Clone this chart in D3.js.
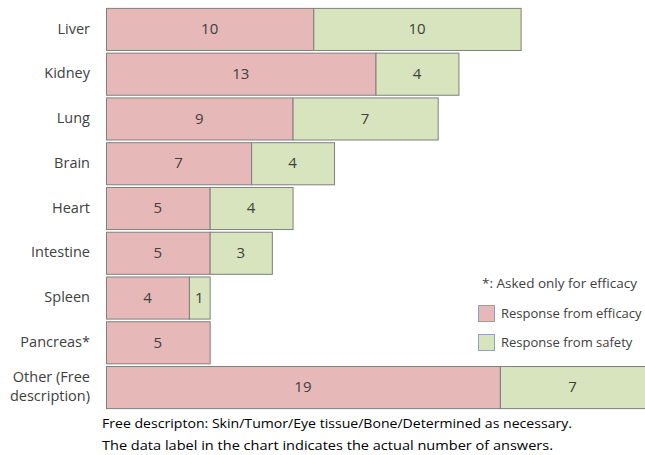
<!DOCTYPE html>
<html>
<head>
<meta charset="utf-8">
<script src="https://cdn.jsdelivr.net/npm/d3@7"></script>
<style>
  html, body { margin: 0; padding: 0; background: #fff; }
  svg { display: block; font-family: "Open Sans", "Noto Sans", sans-serif; }
</style>
</head>
<body>
<svg id="chart" width="645" height="455"></svg>
<script>
// Organs asked about, with counts of answers from each survey part
const categories = ["Liver", "Kidney", "Lung", "Brain", "Heart", "Intestine", "Spleen", "Pancreas*", "Other (Free description)"];
const efficacy = [10, 13, 9, 7, 5, 5, 4, 5, 19];
const safety = [10, 4, 7, 4, 4, 3, 1, 0, 7];
const seriesNames = ["Response from efficacy", "Response from safety"];
const footnotes = [
  "Free descripton: Skin/Tumor/Eye tissue/Bone/Determined as necessary.",
  "The data label in the chart indicates the actual number of answers."
];
const asteriskNote = "*: Asked only for efficacy";

const colors = ["#E6B9B8", "#D7E4BD"];
const textColor = "#404040";

const svg = d3.select("#chart");
const margin = { left: 106, top: 7 };

const x = d3.scaleLinear().domain([0, 26]).range([margin.left, 645]);
const y = d3.scaleBand().domain(categories).range([margin.top, 409]).paddingInner(0.06).paddingOuter(0.02);

const rows = categories.map((c, i) => ({ cat: c, vals: [efficacy[i], safety[i]] }));

const stacked = d3.stack().keys([0, 1]).value((d, k) => d.vals[k])(rows);

const g = svg.append("g");
stacked.forEach((layer, k) => {
  const segs = layer.map((s, i) => ({ x0: s[0], x1: s[1], cat: categories[i], v: rows[i].vals[k] }))
    .filter(d => d.v > 0);
  g.selectAll(null).data(segs).enter().append("rect")
    .attr("x", d => x(d.x0) + 0.5)
    .attr("y", d => y(d.cat) + 0.5)
    .attr("width", d => x(d.x1) - x(d.x0))
    .attr("height", y.bandwidth())
    .attr("fill", colors[k])
    .attr("stroke", "#7f7f7f")
    .attr("stroke-width", 1);
  g.selectAll(null).data(segs).enter().append("text")
    .attr("x", d => (x(d.x0) + x(d.x1)) / 2)
    .attr("y", d => y(d.cat) + y.bandwidth() / 2)
    .attr("dy", "0.35em")
    .attr("text-anchor", "middle")
    .attr("font-size", 15)
    .attr("fill", textColor)
    .text(d => d.v);
});

// Category axis labels (no axis line)
const yAxis = d3.axisLeft(y).tickSize(0).tickPadding(0);
const ax = svg.append("g").attr("transform", `translate(${margin.left - 16},0)`).call(yAxis);
ax.select(".domain").remove();
ax.selectAll("text").attr("font-size", 14.5).attr("fill", textColor)
  .attr("font-family", "Open Sans, Noto Sans, sans-serif")
  .each(function (d) {
    const t = d3.select(this);
    if (d.startsWith("Other")) {
      t.text(null);
      t.append("tspan").attr("x", 0).attr("dy", "-0.38em").text("Other (Free");
      t.append("tspan").attr("x", 0).attr("dy", "1.35em").text("description)");
    }
  });

// Legend
const lg = svg.append("g").attr("font-size", 13).attr("fill", textColor);
lg.append("text").attr("x", 637).attr("y", 283).attr("dy", "0.35em").attr("text-anchor", "end")
  .attr("textLength", 155).attr("lengthAdjust", "spacingAndGlyphs").text(asteriskNote);
seriesNames.forEach((name, k) => {
  const cy = 313 + k * 29;
  lg.append("rect").attr("x", 478.5).attr("y", cy - 7.5).attr("width", 16).attr("height", 16)
    .attr("fill", colors[k]).attr("stroke", "#8fa3b8");
  lg.append("text").attr("x", 501).attr("y", cy).attr("dy", "0.35em").text(name);
});

// Footnotes
svg.append("g").attr("font-size", 13).attr("fill", "#000")
  .selectAll("text").data(footnotes).enter().append("text")
  .attr("x", 102).attr("y", (d, i) => 423 + i * 22).attr("dy", "0.35em")
  .attr("textLength", (d, i) => i === 0 ? 470 : 451)
  .attr("lengthAdjust", "spacingAndGlyphs")
  .text(d => d);
</script>
</body>
</html>
